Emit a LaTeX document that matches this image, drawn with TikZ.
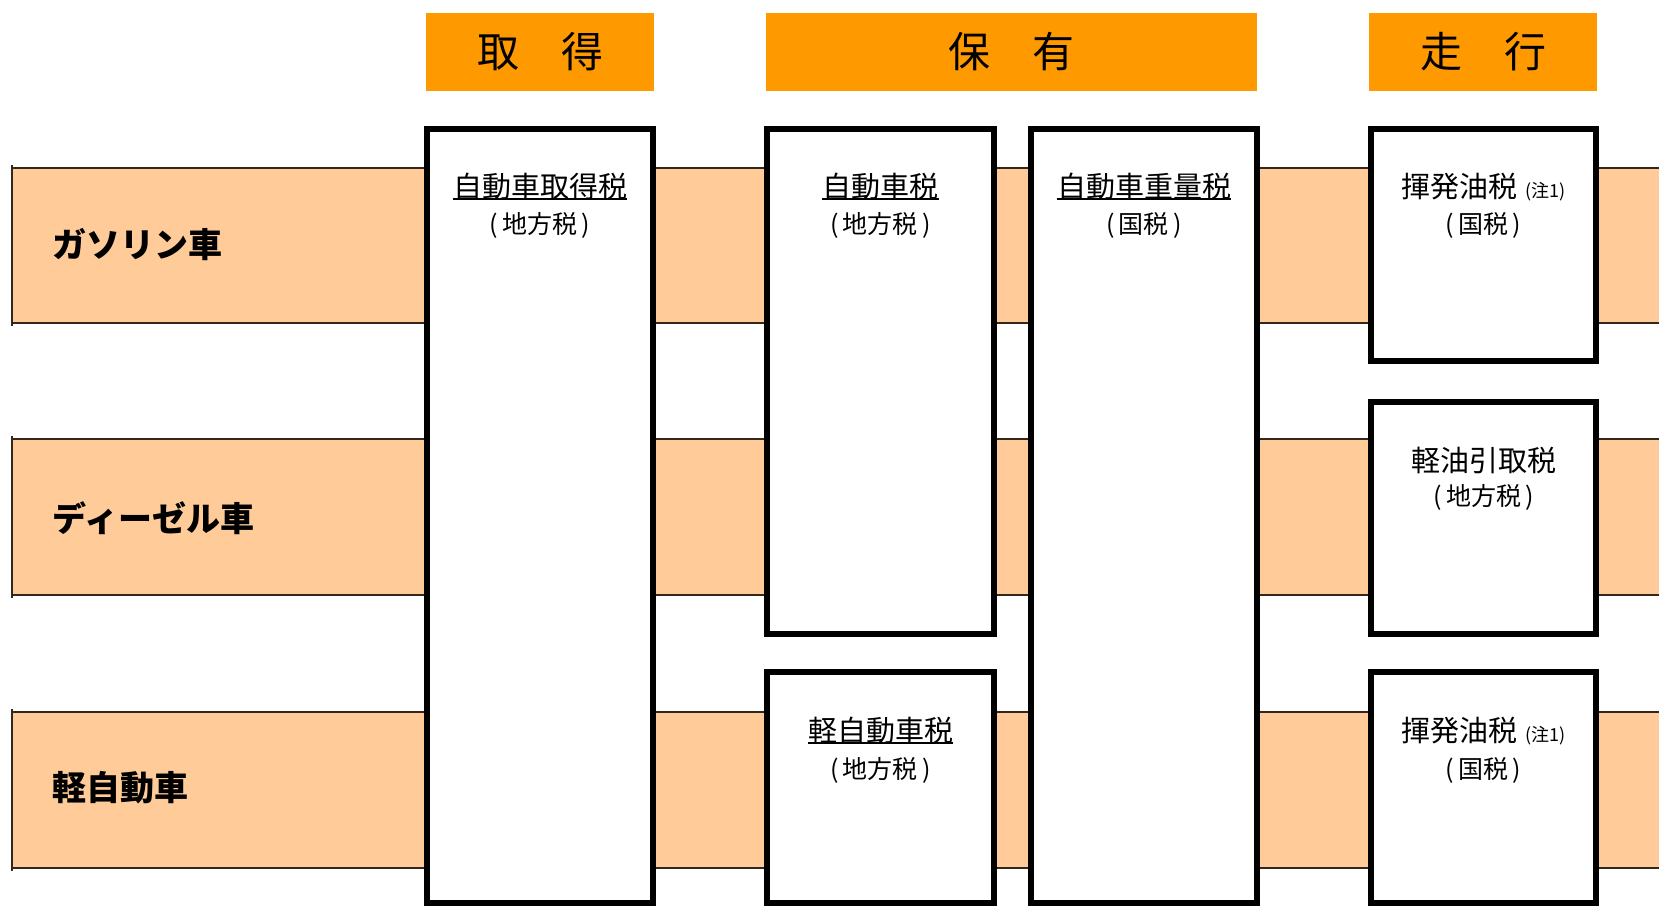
\documentclass[tikz,border=0pt]{standalone}
\usepackage{fontspec}
\setmainfont{Noto Sans CJK JP}
\definecolor{hdrorange}{RGB}{255,153,0}
\definecolor{bandorange}{RGB}{255,204,153}
\definecolor{bandline}{RGB}{50,40,30}
\newcommand{\notemark}{\hspace{0.3em}{\fontsize{9}{10}\selectfont (注1)}}
\newcommand{\pp}[1]{(\,#1\,)}
\begin{document}
\begin{tikzpicture}[x=0.5pt,y=-0.5pt,
  bandedge/.style={draw=bandline, line width=0.8pt},
  taxbox/.style={draw=black, line width=3pt, fill=white},
  rowlbl/.style={anchor=west, inner sep=0pt, font=\fontsize{17}{20}\selectfont\bfseries},
  hdrtxt/.style={inner sep=0pt, font=\fontsize{21}{24}\selectfont},
  ttl/.style={inner sep=0pt, font=\fontsize{14.5}{17}\selectfont},
  sub/.style={inner sep=0pt, font=\fontsize{12.5}{14}\selectfont},
  uline/.style={line width=1pt},
]
\useasboundingbox (0,0) rectangle (1659,906);
% headers
\fill[hdrorange] (426,13) rectangle (654,91);
\fill[hdrorange] (766,13) rectangle (1257,91);
\fill[hdrorange] (1369,13) rectangle (1597,91);
\node[hdrtxt] (h1) at (540,52) {取　得};
\node[hdrtxt] (h2) at (1011.5,52) {保　有};
\node[hdrtxt] (h3) at (1483,52) {走　行};
% bands
\foreach \t/\b in {168/323, 439/595, 712/868}{
  \fill[bandorange] (12,\t) rectangle (1665,\b);
  \draw[bandedge] (1665,\t) -- (12,\t);
  \draw[bandedge] (1665,\b) -- (12,\b);
  \draw[bandedge] (12,\t-3) -- (12,\b+3);
}
\node[rowlbl] (r1) at (52,245) {ガソリン車};
\node[rowlbl] (r2) at (52,518) {ディーゼル車};
\node[rowlbl] (r3) at (52,788) {軽自動車};
% tax boxes
\draw[taxbox] (427,129) rectangle (653,903);
\draw[taxbox] (767,129) rectangle (994,634);
\draw[taxbox] (1031,129) rectangle (1257,903);
\draw[taxbox] (1371,129) rectangle (1596,361);
\draw[taxbox] (1371,402) rectangle (1596,634);
\draw[taxbox] (767,672) rectangle (994,903);
\draw[taxbox] (1371,672) rectangle (1596,903);
% texts
\node[ttl] (t1) at (540,187) {自動車取得税};
\node[sub] (s1) at (540,225) {\pp{地方税}};
\node[ttl] (t2) at (880.5,187) {自動車税};
\node[sub] (s2) at (880.5,225) {\pp{地方税}};
\node[ttl] (t3) at (1144,187) {自動車重量税};
\node[sub] (s3) at (1144,225) {\pp{国税}};
\node[ttl] (t4) at (1483.5,187) {揮発油税\notemark};
\node[sub] (s4) at (1483.5,225) {\pp{国税}};
\node[ttl] (t5) at (1483.5,460) {軽油引取税};
\node[sub] (s5) at (1483.5,497) {\pp{地方税}};
\node[ttl] (t6) at (880.5,731) {軽自動車税};
\node[sub] (s6) at (880.5,770) {\pp{地方税}};
\node[ttl] (t7) at (1483.5,731) {揮発油税\notemark};
\node[sub] (s7) at (1483.5,770) {\pp{国税}};
% underlines
\foreach \n in {t1,t2,t3,t6}{
  \draw[uline] ([yshift=1pt]\n.south west) -- ([yshift=1pt]\n.south east);
}
\end{tikzpicture}
\end{document}
